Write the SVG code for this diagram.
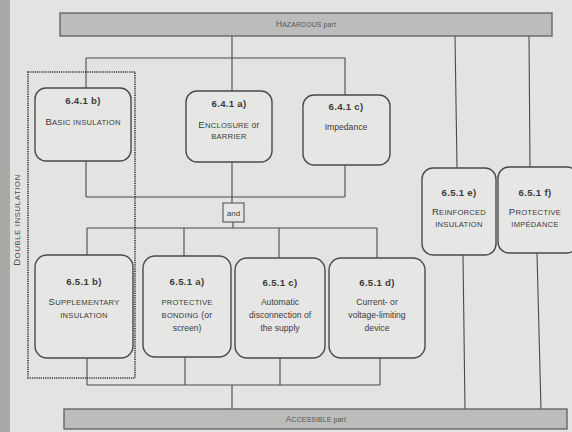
<svg xmlns="http://www.w3.org/2000/svg" width="572" height="432" viewBox="0 0 572 432">
<style>
.bg{fill:#e3e3e1}
.bar{fill:#bcbcba;stroke:#5e5e5e;stroke-width:1.3}
.box{fill:#e6e6e4;stroke:#4a4a4a;stroke-width:1.4}
.ln{stroke:#4a4a4a;stroke-width:1.1;fill:none}
.dot{fill:none;stroke:#333;stroke-width:1.6;stroke-dasharray:1.2 1}
text{font-family:"Liberation Sans","DejaVu Sans",sans-serif;fill:#3c3c3c;text-anchor:middle}
.h{font-size:9.6px;font-weight:bold;letter-spacing:0.3px}
.t{font-size:8.6px}
.sc{font-size:7.6px;letter-spacing:0.25px}
.C{font-size:9.6px}
.bt{font-size:6.8px;fill:#555;letter-spacing:0.2px}
.bC{font-size:8.4px}
</style>
<rect class="bg" x="0" y="0" width="572" height="432"/>
<rect x="0" y="0" width="10" height="432" fill="#a9a9a7"/>

<g id="connectors">
<line class="ln" x1="232" y1="36" x2="232" y2="58"/>
<line class="ln" x1="86" y1="58" x2="345" y2="58"/>
<line class="ln" x1="86" y1="58" x2="86" y2="88"/>
<line class="ln" x1="232" y1="58" x2="232" y2="91"/>
<line class="ln" x1="345" y1="58" x2="345" y2="95"/>
<line class="ln" x1="86" y1="161" x2="86" y2="197"/>
<line class="ln" x1="232" y1="162" x2="232" y2="203"/>
<line class="ln" x1="345" y1="165" x2="345" y2="197"/>
<line class="ln" x1="86" y1="197" x2="345" y2="197"/>
<line class="ln" x1="233" y1="222" x2="233" y2="228"/>
<line class="ln" x1="87" y1="228" x2="377" y2="228"/>
<line class="ln" x1="87" y1="228" x2="87" y2="255"/>
<line class="ln" x1="184" y1="228" x2="184" y2="256"/>
<line class="ln" x1="279" y1="228" x2="279" y2="258"/>
<line class="ln" x1="377" y1="228" x2="377" y2="258"/>
<line class="ln" x1="87" y1="358" x2="87" y2="385"/>
<line class="ln" x1="185" y1="357" x2="185" y2="385"/>
<line class="ln" x1="280" y1="358" x2="280" y2="385"/>
<line class="ln" x1="380" y1="358" x2="380" y2="385"/>
<line class="ln" x1="87" y1="385" x2="380" y2="385"/>
<line class="ln" x1="232" y1="385" x2="232" y2="410"/>
<line class="ln" x1="455" y1="36" x2="457" y2="168"/>
<line class="ln" x1="529" y1="36" x2="530" y2="167"/>
<line class="ln" x1="463" y1="255" x2="465" y2="410"/>
<line class="ln" x1="537" y1="253" x2="541" y2="410"/>
</g>

<g id="hazardous">
<rect class="bar" x="60" y="13" width="492" height="23"/>
<text class="bt" x="306" y="27"><tspan class="bC">H</tspan>AZARDOUS part</text>
</g>

<g id="accessible">
<rect class="bar" x="64" y="409" width="503" height="20"/>
<text class="bt" x="316" y="422"><tspan class="bC">A</tspan>CCESSIBLE part</text>
</g>

<g id="double-insulation">
<rect class="dot" x="28" y="72" width="107" height="306"/>
<text class="sc" transform="translate(20,220) rotate(-90)" style="letter-spacing:0.7px;fill:#4a4a4a"><tspan class="C">D</tspan>OUBLE INSULATION</text>
</g>

<g id="n641b">
<rect class="box" x="35" y="88" width="96" height="73" rx="11"/>
<text class="h" x="83" y="104">6.4.1 b)</text>
<text class="sc" x="83" y="125"><tspan class="C">B</tspan>ASIC INSULATION</text>
</g>

<g id="n641a">
<rect class="box" x="186" y="91" width="86" height="71" rx="11"/>
<text class="h" x="229" y="107">6.4.1 a)</text>
<text class="sc" x="229" y="128"><tspan class="C">E</tspan>NCLOSURE <tspan class="t">or</tspan></text>
<text class="sc" x="229" y="139">BARRIER</text>
</g>

<g id="n641c">
<rect class="box" x="303" y="95" width="87" height="70" rx="11"/>
<text class="h" x="346" y="110">6.4.1 c)</text>
<text class="t" x="346" y="130">Impedance</text>
</g>

<g id="and">
<rect x="223" y="203" width="21" height="19" fill="#e6e6e4" stroke="#555" stroke-width="1.1"/>
<text class="t" x="233.5" y="215.5" style="font-size:8px">and</text>
</g>

<g id="n651b">
<rect class="box" x="35" y="255" width="98" height="103" rx="12"/>
<text class="h" x="84" y="285">6.5.1 b)</text>
<text class="sc" x="84" y="305"><tspan class="C">S</tspan>UPPLEMENTARY</text>
<text class="sc" x="84" y="318">INSULATION</text>
</g>

<g id="n651a">
<rect class="box" x="143" y="256" width="88" height="101" rx="12"/>
<text class="h" x="187" y="285">6.5.1 a)</text>
<text class="sc" x="187" y="305">PROTECTIVE</text>
<text class="sc" x="187" y="318">BONDING <tspan class="t">(or</tspan></text>
<text class="t" x="187" y="331">screen)</text>
</g>

<g id="n651c">
<rect class="box" x="235" y="258" width="90" height="100" rx="12"/>
<text class="h" x="280" y="286">6.5.1 c)</text>
<text class="t" x="280" y="305">Automatic</text>
<text class="t" x="280" y="318">disconnection of</text>
<text class="t" x="280" y="331">the supply</text>
</g>

<g id="n651d">
<rect class="box" x="329" y="258" width="96" height="100" rx="12"/>
<text class="h" x="377" y="286">6.5.1 d)</text>
<text class="t" x="377" y="305">Current- or</text>
<text class="t" x="377" y="318">voltage-limiting</text>
<text class="t" x="377" y="331">device</text>
</g>

<g id="n651e">
<rect class="box" x="422" y="168" width="74" height="87" rx="11"/>
<text class="h" x="459" y="196">6.5.1 e)</text>
<text class="sc" x="459" y="215"><tspan class="C">R</tspan>EINFORCED</text>
<text class="sc" x="459" y="227">INSULATION</text>
</g>

<g id="n651f">
<rect class="box" x="498" y="167" width="80" height="86" rx="11"/>
<text class="h" x="535" y="196">6.5.1 f)</text>
<text class="sc" x="535" y="215"><tspan class="C">P</tspan>ROTECTIVE</text>
<text class="sc" x="535" y="227">IMPÉDANCE</text>
</g>
</svg>
